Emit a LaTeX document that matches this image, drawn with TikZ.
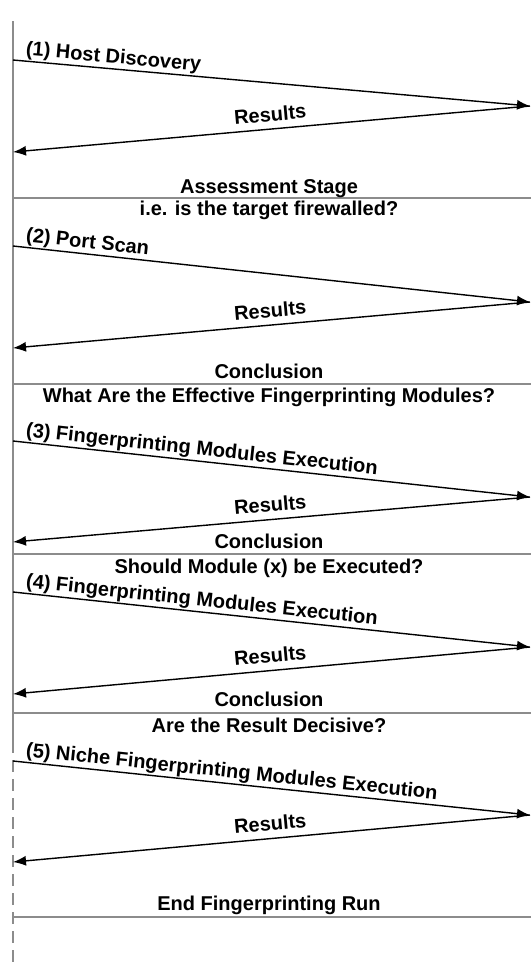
\documentclass[tikz,border=0pt]{standalone}
\usepackage{fontspec}
\setmainfont{Liberation Sans}
\usetikzlibrary{arrows.meta}

\begin{document}
\begin{tikzpicture}[x=1pt,y=-1pt,>={Latex[length=13pt,width=10pt]},
    font=\fontsize{20}{24}\selectfont\bfseries]
  \tikzstyle{msg}=[->,line width=1.4pt,black]
  \tikzstyle{sep}=[line width=2pt,black!45]
  \tikzstyle{life}=[line width=2pt,black!45]
  \tikzstyle{req}=[sloped,anchor=south west,inner sep=1pt,pos=0.02]
  \tikzstyle{res}=[sloped,above=5pt,inner sep=2pt,midway]
  \tikzstyle{stage}=[anchor=base,inner sep=0pt]
  \useasboundingbox (0,0) rectangle (531,962);

  % lifeline
  \coordinate (top) at (13,21);
  \coordinate (mid) at (13,753);
  \coordinate (dsh) at (13,760);
  \coordinate (bot) at (13,962);
  \draw[life] (top) -- (mid);
  \draw[life,dash pattern=on 12pt off 7pt] (dsh) -- (bot);

  % exchanges
  \coordinate (q1) at (13,60);  \coordinate (r1) at (530,106); \coordinate (e1) at (13,152);
  \coordinate (q2) at (13,246); \coordinate (r2) at (530,302); \coordinate (e2) at (13,348);
  \coordinate (q3) at (13,441); \coordinate (r3) at (530,497); \coordinate (e3) at (13,542);
  \coordinate (q4) at (13,592); \coordinate (r4) at (530,647); \coordinate (e4) at (13,694);
  \coordinate (q5) at (13,761); \coordinate (r5) at (530,815); \coordinate (e5) at (13,862);

  \draw[msg] (q1) -- node[req] {(1) Host Discovery} (r1);
  \draw[msg] (r1) -- node[res] {Results} (e1);
  \draw[msg] (q2) -- node[req] {(2) Port Scan} (r2);
  \draw[msg] (r2) -- node[res] {Results} (e2);
  \draw[msg] (q3) -- node[req] {(3) Fingerprinting Modules Execution} (r3);
  \draw[msg] (r3) -- node[res] {Results} (e3);
  \draw[msg] (q4) -- node[req] {(4) Fingerprinting Modules Execution} (r4);
  \draw[msg] (r4) -- node[res] {Results} (e4);
  \draw[msg] (q5) -- node[req] {(5) Niche Fingerprinting Modules Execution} (r5);
  \draw[msg] (r5) -- node[res] {Results} (e5);

  % stage separators
  \coordinate (s1l) at (13,198); \coordinate (s1r) at (531,198);
  \coordinate (s2l) at (13,384); \coordinate (s2r) at (531,384);
  \coordinate (s3l) at (13,554); \coordinate (s3r) at (531,554);
  \coordinate (s4l) at (13,713); \coordinate (s4r) at (531,713);
  \coordinate (s5l) at (13,917); \coordinate (s5r) at (531,917);
  \draw[sep] (s1l) -- (s1r);
  \draw[sep] (s2l) -- (s2r);
  \draw[sep] (s3l) -- (s3r);
  \draw[sep] (s4l) -- (s4r);
  \draw[sep] (s5l) -- (s5r);

  \node[stage] (assess) at (269,193) {Assessment Stage};
  \node[stage] (firewall) at (269,215) {i.e. is the target firewalled?};
  \node[stage] (concl2) at (269,378) {Conclusion};
  \node[stage] (effmod) at (269,402) {What Are the Effective Fingerprinting Modules?};
  \node[stage] (concl3) at (269,548) {Conclusion};
  \node[stage] (execq) at (269,573) {Should Module (x) be Executed?};
  \node[stage] (concl4) at (269,706) {Conclusion};
  \node[stage] (decisive) at (269,732) {Are the Result Decisive?};
  \node[stage] (endrun) at (269,910) {End Fingerprinting Run};
\end{tikzpicture}
\end{document}
